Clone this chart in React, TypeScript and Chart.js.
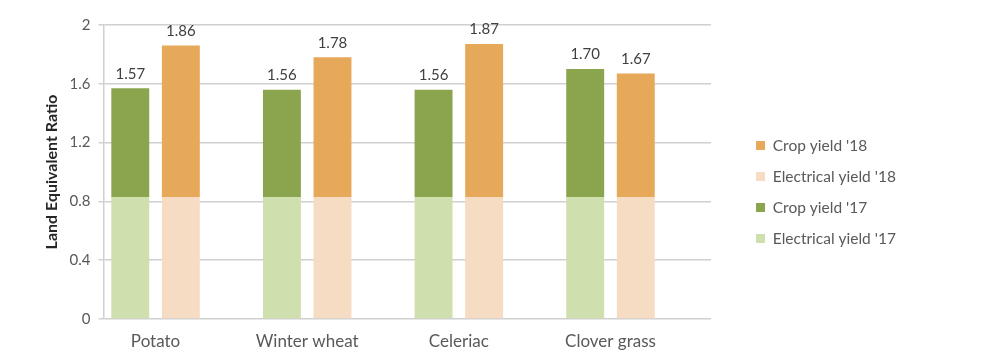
import React, { useEffect, useRef } from "react";
import { Chart, registerables } from "chart.js";

Chart.register(...registerables);

const categories = ["Potato", "Winter wheat", "Celeriac", "Clover grass"];
const electrical17 = [0.83, 0.83, 0.83, 0.83];
const total17 = [1.57, 1.56, 1.56, 1.7];
const electrical18 = [0.83, 0.83, 0.83, 0.83];
const total18 = [1.86, 1.78, 1.87, 1.67];
const yTicks = [0, 0.4, 0.8, 1.2, 1.6, 2];

const FONT = "Lato, 'Open Sans', sans-serif";

const totalsPlugin = {
  id: "totals",
  afterDatasetsDraw(chart: any) {
    const ctx = chart.ctx;
    ctx.save();
    ctx.font = `15px ${FONT}`;
    ctx.fillStyle = "#404040";
    ctx.textAlign = "center";
    ctx.textBaseline = "bottom";
    const pairs: [number, number[]][] = [
      [1, total17],
      [3, total18],
    ];
    pairs.forEach(([di, totals]) => {
      const meta = chart.getDatasetMeta(di);
      meta.data.forEach((el: any, i: number) => {
        ctx.fillText(totals[i].toFixed(2), el.x, el.y - 7);
      });
    });
    ctx.restore();
  },
};

const legendShift = {
  id: "legendShift",
  afterLayout(chart: any) {
    const l = chart.legend;
    if (!l) return;
    const dx = 29.5;
    const dy = 6;
    l.left += dx;
    l.right += dx;
    l.top += dy;
    l.bottom += dy;
  },
};

export default function App() {
  const ref = useRef<HTMLCanvasElement>(null);
  useEffect(() => {
    if (!ref.current) return;
    const pts = (vals: number[]) => vals.map((v, i) => ({ x: i, y: v }));
    const chart = new Chart(ref.current, {
      type: "bar",
      data: {
        datasets: [
          {
            label: "Electrical yield '17",
            data: pts(electrical17),
            backgroundColor: "#CFDFAD",
            stack: "17",
          },
          {
            label: "Crop yield '17",
            data: pts(total17.map((t, i) => +(t - electrical17[i]).toFixed(2))),
            backgroundColor: "#8AA54E",
            stack: "17",
          },
          {
            label: "Electrical yield '18",
            data: pts(electrical18),
            backgroundColor: "#F5DCC2",
            stack: "18",
          },
          {
            label: "Crop yield '18",
            data: pts(total18.map((t, i) => +(t - electrical18[i]).toFixed(2))),
            backgroundColor: "#E6A95A",
            stack: "18",
          },
        ],
      },
      options: {
        animation: false,
        responsive: true,
        maintainAspectRatio: false,
        datasets: {
          bar: { categoryPercentage: 0.667, barPercentage: 0.75 },
        } as any,
        layout: { padding: { left: 30.4, right: 111.6, top: 14, bottom: 0 } },
        plugins: {
          tooltip: { enabled: false },
          legend: {
            position: "right",
            reverse: true,
            labels: {
              boxWidth: 9,
              boxHeight: 9,
              padding: 15.5,
              color: "#595959",
              font: { family: FONT, size: 15.5 },
            },
          },
        },
        scales: {
          x: {
            type: "linear",
            offset: false,
            min: -0.343,
            max: 3.663,
            grid: { display: false, drawTicks: false },
            border: { display: false },
            afterBuildTicks: (scale: any) => {
              scale.ticks = categories.map((_, i) => ({ value: i }));
            },
            afterFit: (scale: any) => {
              scale.height = 31;
            },
            ticks: {
              autoSkip: false,
              maxRotation: 0,
              padding: 12,
              color: "#595959",
              font: { family: FONT, size: 17 },
              callback: (v: any) => categories[Math.round(Number(v))] ?? "",
            },
          },
          y: {
            stacked: true,
            min: 0,
            max: 2,
            afterBuildTicks: (scale: any) => {
              scale.ticks = yTicks.map((v) => ({ value: v }));
            },
            grid: { color: "#D0D0D0", lineWidth: 1.5, tickLength: 5 },
            border: { display: true, color: "#D0D0D0", width: 1.5 },
            ticks: {
              padding: 8,
              color: "#595959",
              font: { family: FONT, size: 15 },
              callback: (v: any) => String(+Number(v).toFixed(1)),
            },
            title: {
              display: true,
              text: "Land Equivalent Ratio",
              color: "#262626",
              font: { family: FONT, size: 16, weight: "bold" },
              padding: { top: 4, bottom: 0 },
            },
          },
        },
      },
      plugins: [totalsPlugin, legendShift],
    });
    return () => chart.destroy();
  }, []);
  return (
    <div style={{ width: "100%", height: 342, position: "relative" }}>
      <canvas ref={ref} />
    </div>
  );
}
